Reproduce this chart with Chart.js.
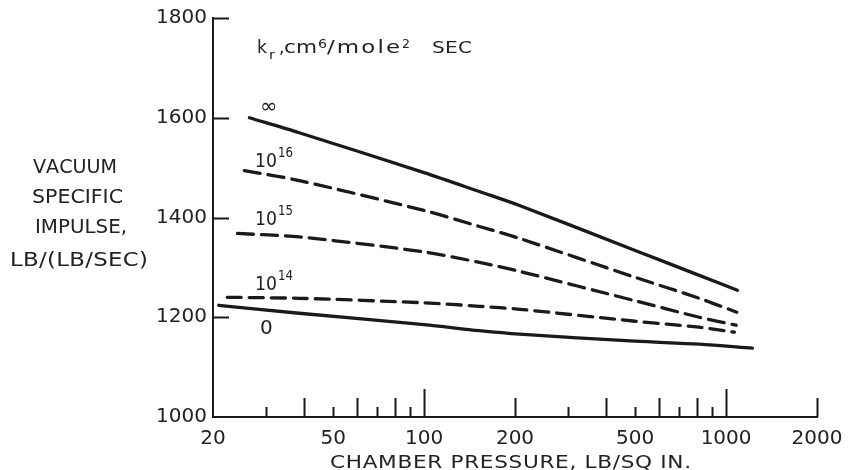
<!DOCTYPE html>
<html><head><meta charset="utf-8">
<script src="https://cdn.jsdelivr.net/npm/chart.js@4.4.0/dist/chart.umd.min.js"></script>
<style>html,body{margin:0;padding:0;background:#fff;}canvas{display:block;}</style>
</head><body>
<canvas id="c" width="854" height="470"></canvas>
<script>
// ---- data ----
const xTickValues = [20,30,40,50,60,70,80,90,100,200,300,400,500,600,700,800,900,1000,2000];
const xTickLabels = [20,50,100,200,500,1000,2000];
const yTickValues = [1000,1200,1400,1600,1800];

const infX  = [26.4, 38.6, 100, 152.5, 207, 500, 815, 1090];
const infY  = [1600, 1570, 1490, 1452, 1424, 1334, 1284, 1254];
const e16X  = [25.4, 38.6, 100, 152.5, 207, 500, 815, 1085];
const e16Y  = [1494, 1474, 1414, 1382, 1358, 1280, 1238, 1210];
const e15X  = [24.1, 38.6, 100, 152.5, 207, 500, 815, 1080];
const e15Y  = [1368, 1361, 1331, 1310, 1292, 1233, 1200, 1184];
const e14X  = [22.3, 38.6, 100, 152.5, 207, 500, 815, 1065];
const e14Y  = [1240, 1238, 1229, 1222, 1216, 1192, 1180, 1170];
const zeroX = [20.9, 38.6, 100, 152.5, 207, 500, 815, 1222];
const zeroY = [1224, 1208, 1185, 1173, 1166, 1152, 1146, 1138];

// ---- styling ----
const INK = '#1a1a1a';
const TXT = '#222';
const FONT = '"DejaVu Sans", sans-serif';

function pts(xs, ys){ return xs.map((v,i)=>({x:v, y:ys[i]})); }
function ds(label, xs, ys, dash){
  return { label, data: pts(xs, ys), borderColor: INK, borderWidth: 3.3,
    borderDash: dash, borderCapStyle: 'round', pointRadius: 0,
    tension: 0.3, fill: false };
}

// draw text starting at x (left), baseline y, fitted to width using a mild horizontal stretch plus spacing
function fit(ctx, text, x, y, width, maxStretch){
  const chars = [...text];
  const ws = chars.map(c => ctx.measureText(c).width);
  const nat = ws.reduce((a,b)=>a+b, 0);
  let k = 1, extra = 0;
  if (width != null) {
    k = Math.min(maxStretch || 1.2, width / nat);
    extra = chars.length > 1 ? (width - nat * k) / (chars.length - 1) : 0;
  }
  let cx = x;
  chars.forEach((c,i)=>{
    ctx.save(); ctx.translate(cx, y); ctx.scale(k, 1); ctx.fillText(c, 0, 0); ctx.restore();
    cx += ws[i] * k + extra;
  });
}

function tickLen(v){
  const lg = Math.log10(v);
  if (Math.abs(lg - Math.round(lg)) < 1e-9) return 28;
  const lead = Math.round(v / Math.pow(10, Math.floor(lg)));
  return lead % 2 === 0 ? 19 : 10;
}

const decor = {
  id: 'decor',
  afterDraw(chart){
    const {ctx, chartArea: a, scales: {x, y}} = chart;
    ctx.save();
    ctx.strokeStyle = INK; ctx.lineWidth = 2;
    ctx.beginPath();
    xTickValues.forEach(v => {
      if (v === xTickValues[0]) return;
      const px = Math.round(x.getPixelForValue(v)) + 0.5;
      ctx.moveTo(px, a.bottom); ctx.lineTo(px, a.bottom - tickLen(v));
    });
    yTickValues.forEach(v => {
      if (v === yTickValues[0]) return;
      const py = Math.round(y.getPixelForValue(v)) + 0.5;
      ctx.moveTo(a.left, py); ctx.lineTo(a.left + 16, py);
    });
    ctx.stroke();

    ctx.fillStyle = TXT;
    ctx.textBaseline = 'alphabetic';
    ctx.textAlign = 'left';
    // y-axis title (horizontal, stacked)
    ctx.font = '19px ' + FONT;
    fit(ctx, 'VACUUM', 33, 173, 84);
    fit(ctx, 'SPECIFIC', 32, 203, 91);
    fit(ctx, 'IMPULSE,', 35, 233, 92);
    fit(ctx, 'LB/(LB/SEC)', 10, 266, 138);
    // x-axis title
    ctx.font = '18px ' + FONT;
    fit(ctx, 'CHAMBER PRESSURE, LB/SQ IN.', 330, 468, 361);

    // legend title: k_r, cm^6/mole^2 SEC
    ctx.font = '17px ' + FONT;
    fit(ctx, 'k', 257, 53, 10, 1.1);
    ctx.font = '12px ' + FONT;
    fit(ctx, 'r', 269, 59, 6, 1.2);
    ctx.font = '17px ' + FONT;
    fit(ctx, ',', 279, 53);
    fit(ctx, 'cm', 284, 53, 33, 1.3);
    ctx.font = '12px ' + FONT;
    fit(ctx, '6', 318, 48, 9, 1.2);
    ctx.font = '17px ' + FONT;
    fit(ctx, '/mole', 327, 53, 73, 1.35);
    ctx.font = '12px ' + FONT;
    fit(ctx, '2', 402, 48, 8, 1.2);
    ctx.font = '16px ' + FONT;
    fit(ctx, 'SEC', 432, 53, 40, 1.25);

    // curve labels
    ctx.font = '21px ' + FONT;
    ctx.fillText('\u221E', 260, 113);
    const pow = (exp, bx, by) => {
      ctx.font = '20px ' + FONT;
      fit(ctx, '10', bx, by, 22);
      ctx.font = '14px ' + FONT;
      fit(ctx, exp, bx + 23, by - 10, 15);
    };
    pow('16', 255, 167);
    pow('15', 255, 225);
    pow('14', 255, 290);
    ctx.font = '20px ' + FONT;
    ctx.fillText('0', 260, 334);
    ctx.restore();
  }
};

new Chart(document.getElementById('c'), {
  type: 'line',
  data: { datasets: [
    ds('\u221E', infX, infY, []),
    ds('10^16', e16X, e16Y, [16, 8]),
    ds('10^15', e15X, e15Y, [16, 8]),
    ds('10^14', e14X, e14Y, [14, 8]),
    ds('0', zeroX, zeroY, [])
  ]},
  options: {
    responsive: false, animation: false, devicePixelRatio: 1,
    layout: { padding: { top: 17, right: 37, bottom: 0, left: 0 } },
    plugins: { legend: { display: false }, tooltip: { enabled: false } },
    scales: {
      x: {
        type: 'logarithmic', min: 20, max: 2000,
        afterBuildTicks: s => { s.ticks = xTickValues.map(v => ({ value: v })); },
        afterFit: s => { s.height = 53; },
        grid: { display: false, drawTicks: false },
        border: { display: true, color: INK, width: 2 },
        ticks: { autoSkip: false, maxRotation: 0, minRotation: 0, padding: 10,
          color: TXT, font: { family: FONT, size: 20 },
          callback: v => xTickLabels.includes(v) ? String(v) : '' }
      },
      y: {
        type: 'linear', min: 1000, max: 1800,
        afterBuildTicks: s => { s.ticks = yTickValues.map(v => ({ value: v })); },
        afterFit: s => { s.width = 213; },
        grid: { display: false, drawTicks: false },
        border: { display: true, color: INK, width: 2 },
        ticks: { padding: 6, color: TXT, font: { family: FONT, size: 20 },
          callback: v => String(v) }
      }
    }
  },
  plugins: [decor]
});
</script>
</body></html>
